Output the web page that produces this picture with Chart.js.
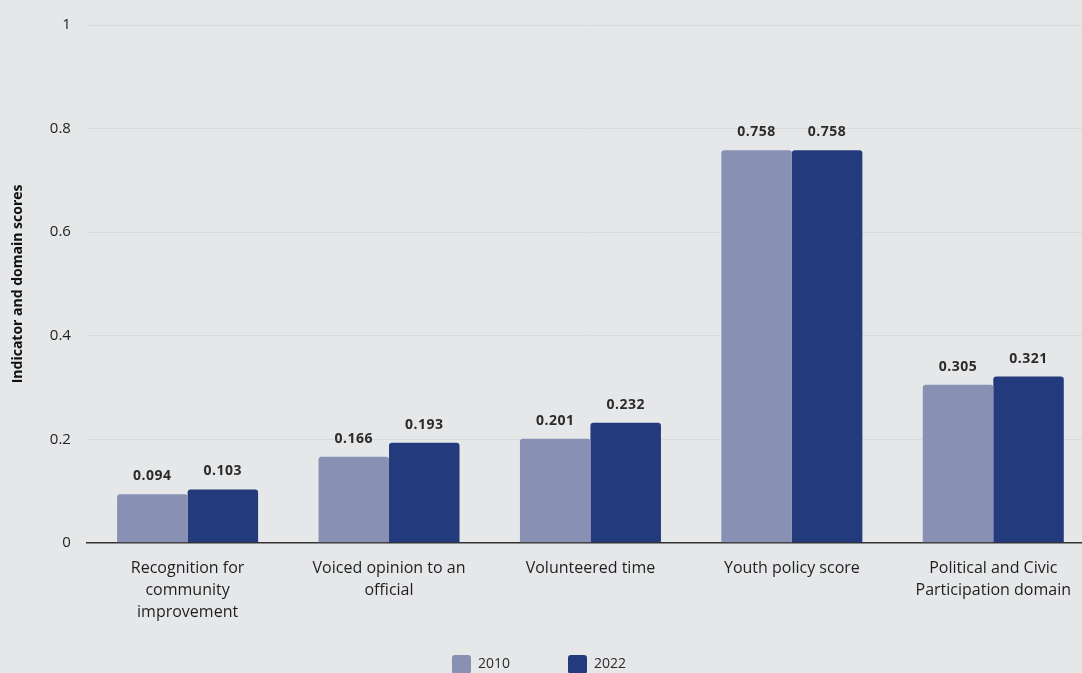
<!DOCTYPE html>
<html>
<head>
<meta charset="utf-8">
<script src="https://cdn.jsdelivr.net/npm/chart.js@4"></script>
<style>
  html, body { margin: 0; padding: 0; background: #e6e7e9; overflow: hidden; }
  #wrap { width: 1094px; height: 684px; position: relative; }
</style>
</head>
<body>
<div id="wrap"><canvas id="scoreChart"></canvas></div>
<script>
// categories (multi-line labels)
const categories = [
    ['Recognition for', 'community', 'improvement'],
    ['Voiced opinion to an', 'official'],
    'Volunteered time',
    'Youth policy score',
    ['Political and Civic', 'Participation domain']
];
const scores2010 = [0.094, 0.166, 0.201, 0.758, 0.305];
const scores2022 = [0.103, 0.193, 0.232, 0.758, 0.321];
const yTicks = [0, 0.2, 0.4, 0.6, 0.8, 1];

const FONT = '"Open Sans", Lato, sans-serif';

// small plugin to write the value above each bar
const valueLabels = {
    id: 'valueLabels',
    afterDatasetsDraw(chart) {
        const ctx = chart.ctx;
        ctx.save();
        ctx.font = 'bold 14px ' + FONT;
        ctx.letterSpacing = '0.5px';
        ctx.fillStyle = '#2b2b2b';
        ctx.textAlign = 'center';
        ctx.textBaseline = 'bottom';
        chart.data.datasets.forEach((ds, i) => {
            chart.getDatasetMeta(i).data.forEach((bar, j) => {
                ctx.fillText(ds.data[j].toFixed(3), bar.x, bar.y - 11);
            });
        });
        ctx.restore();
    }
};

// legend sits a little left of centre in the original
const legendShift = {
    id: 'legendShift',
    afterLayout(chart) {
        chart.legend.left -= 13;
        chart.legend.right -= 13;
    }
};

const ctx = document.getElementById('scoreChart').getContext('2d');
new Chart(ctx, {
    type: 'bar',
    data: {
        labels: categories,
        datasets: [{
            label: '2010',
            data: scores2010,
            backgroundColor: '#8890b4',
            borderRadius: { topLeft: 3, topRight: 3 },
            borderSkipped: 'bottom'
        }, {
            label: '2022',
            data: scores2022,
            backgroundColor: '#233a7c',
            borderRadius: { topLeft: 3, topRight: 3 },
            borderSkipped: 'bottom'
        }]
    },
    options: {
        responsive: true,
        maintainAspectRatio: false,
        animation: false,
        layout: { padding: { top: 17, left: 10, right: 0, bottom: 0 } },
        datasets: { bar: { categoryPercentage: 0.7, barPercentage: 1.0 } },
        plugins: {
            legend: {
                position: 'bottom',
                labels: {
                    font: { family: FONT, size: 14 },
                    color: '#2b2b2b',
                    boxWidth: 19,
                    boxHeight: 19,
                    padding: 58,
                    useBorderRadius: true,
                    borderRadius: 3
                }
            },
            tooltip: { enabled: false }
        },
        scales: {
            x: {
                grid: { display: false },
                border: { display: true, color: '#333333', width: 1.5 },
                afterFit: scale => {
                    scale.height -= 33;
                    scale._computeLabelArea = () => undefined; // don't clip the labels
                },
                ticks: {
                    font: { family: FONT, size: 16, lineHeight: 1.4 },
                    color: '#1f1f1f',
                    maxRotation: 0,
                    autoSkip: false,
                    padding: 6
                }
            },
            y: {
                min: 0,
                max: 1,
                afterBuildTicks: axis => { axis.ticks = yTicks.map(v => ({ value: v })); },
                grid: { color: '#d9dadd', drawTicks: false },
                border: { display: false },
                ticks: {
                    font: { family: FONT, size: 15 },
                    color: '#1f1f1f',
                    padding: 16,
                    callback: v => String(+v.toFixed(1))
                },
                title: {
                    display: true,
                    text: 'Indicator and domain scores',
                    font: { family: FONT, size: 14, weight: 'bold' },
                    color: '#111111',
                    padding: { top: 0, bottom: 7 }
                }
            }
        }
    },
    plugins: [valueLabels, legendShift]
});
</script>
</body>
</html>
